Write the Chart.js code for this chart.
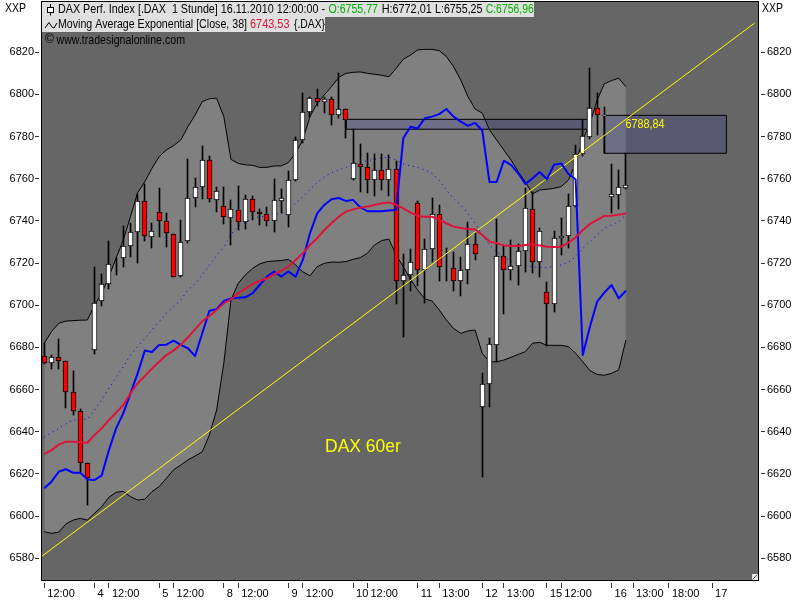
<!DOCTYPE html>
<html><head><meta charset="utf-8">
<style>html,body{margin:0;padding:0;background:#fff}canvas{display:block}</style>
<script src="https://cdn.jsdelivr.net/npm/chart.js@4/dist/chart.umd.js"></script>
</head><body><canvas id="c" width="800" height="600"></canvas>
<script>
const opens=[6675.9,6672.5,6675.3,6673.4,6658.7,6649.7,6625,6678.6,6702,6710,6719.9,6722.3,6728,6734.6,6749.3,6732.2,6744.1,6739.8,6733.7,6713.7,6730.3,6750.7,6756,6768.8,6749.8,6747,6741.3,6745,6739.4,6750.3,6744.1,6743.1,6739.8,6749.3,6742.7,6759.3,6778.3,6791.5,6798.2,6796.3,6797.7,6790.1,6793,6759.8,6766.9,6765.4,6759.3,6764,6759.3,6764.5,6711.3,6714.5,6748.3,6716.6,6726.5,6743.1,6717.9,6717.5,6711.3,6716.6,6728.9,6651.6,6662.5,6681,6723.4,6716.6,6718.5,6725.6,6745.5,6720.4,6706.1,6700.7,6731.7,6732.7,6746.9,6771.9,6779.6,6793.4,6790,6751.5,6752.4,6755.77];
const closes=[6672.5,6675.3,6673.4,6658.7,6649.7,6625,6618.2,6701.2,6710,6719.4,6720.1,6728,6734.6,6749.3,6732.7,6735,6739.8,6734.1,6713.3,6729.9,6750.7,6756,6768.8,6750.3,6754.4,6741.7,6745.5,6739.4,6750.3,6744.1,6743.1,6739.8,6749.8,6750.7,6759.3,6778.3,6791.5,6798.2,6796.4,6797.7,6790.1,6793,6787.7,6767.3,6765.4,6759.3,6764,6759.3,6764.5,6711.3,6714.5,6720.4,6716.6,6726.5,6743.1,6718,6717.5,6711.3,6716.6,6728.9,6724.2,6662.5,6681.5,6723.4,6716.6,6718.5,6725.6,6746,6720.4,6735,6700.7,6731.7,6732.7,6746.9,6771.9,6780.1,6793.4,6790.1,6790.3,6752.8,6755.9,6756.96];
const highs=[6681.9,6676.2,6683.8,6673.4,6668.8,6650.8,6625,6718.3,6714.8,6730.5,6722.3,6737.6,6739,6753,6757.5,6738.9,6755.5,6743.6,6733.7,6740.5,6769.2,6760.4,6775.6,6770.8,6756.3,6756,6750,6756.6,6752.3,6751.8,6745.5,6746.5,6759.8,6755,6763.7,6779.7,6800.6,6799,6802.4,6799,6798.7,6810,6793,6783.5,6776.5,6772,6771.6,6771.6,6771.3,6768.4,6724.3,6726.7,6749.3,6731.3,6750.9,6747.6,6727,6725.3,6722.9,6739.5,6734.4,6667.7,6684.3,6740.7,6728.6,6731,6729,6755.5,6753.9,6736.5,6710.9,6735.4,6741.2,6752.8,6776,6787.9,6812.4,6800.5,6794.2,6767,6764.2,6772.01];
const lows=[6672,6669.6,6669.6,6651.4,6647.9,6620.7,6605.3,6676.9,6699.7,6707.7,6714.4,6718.3,6723,6720,6730.7,6727,6732.6,6727.8,6713.3,6713.3,6729.4,6746.8,6750.3,6749.2,6744.4,6738.4,6728.6,6735.7,6736.2,6740.5,6738,6737.6,6734.9,6743.6,6737,6759,6776.8,6789.5,6794.5,6791.4,6785.5,6788.7,6779.5,6759.3,6753.7,6753.4,6752,6754.7,6752,6700.4,6685.1,6706.8,6709.1,6701.2,6720.7,6711.5,6711.7,6706.9,6704.5,6710.2,6721.6,6618.7,6651.6,6673.2,6696,6712,6709.6,6715.9,6715.4,6713.6,6680.8,6696.8,6723.8,6727.3,6746.5,6771,6779,6780.8,6772,6743.6,6745.7,6755.25];
const emaRed=[6629.4,6631.3,6633.9,6635.3,6635.3,6635,6634.8,6638.5,6641.6,6645.6,6649,6652.7,6658.2,6663,6666.4,6670,6673.2,6676.4,6678.5,6681.2,6684.8,6688.6,6692.5,6694.9,6697.8,6700.9,6702.8,6705.7,6707.9,6710.1,6711.5,6712.8,6714.7,6716.4,6718.3,6721.5,6724.6,6728.6,6731.8,6735.7,6738.9,6742,6744.4,6745.5,6746.3,6746.8,6747.6,6748.4,6748.8,6747.6,6746,6744,6742.4,6742,6742,6740.5,6738.9,6737.3,6736.7,6736.2,6736,6733.3,6730.2,6729.4,6728.4,6728.1,6728.1,6728.6,6728.9,6728.4,6727.8,6727.6,6727.8,6729.7,6732.2,6735.7,6738.6,6740.5,6742.4,6742.5,6743,6743.53];
const blueLine=[6613.2,6616.3,6621,6622.2,6620.6,6620.6,6617.4,6617.1,6619.3,6631.3,6641.6,6648.7,6658.2,6667.7,6678.5,6677.8,6681.2,6681.3,6683.2,6681.2,6679.6,6675.9,6686.7,6697.4,6698.1,6702,6703.3,6703.6,6703.8,6705.7,6709.6,6713.6,6716,6713.6,6716,6713.6,6721.5,6734.1,6743.6,6747.6,6750.3,6750.9,6749.5,6750,6746.5,6744.6,6744.6,6744.6,6745,6745.2,6779.2,6784.7,6783.9,6788.7,6789.5,6790.7,6793.1,6789.5,6787.1,6785.1,6786.5,6782.9,6758.5,6758.5,6768.6,6766.6,6762.6,6757.5,6760.2,6763.2,6759.8,6766.7,6767.3,6762.3,6759.8,6676.4,6689.9,6701.7,6706,6709.6,6703.3,6706.9];
const bandUpper=[6682,6687.5,6691.4,6692.5,6692.7,6692.9,6693,6700,6705.7,6713.6,6722.3,6731,6742,6753.4,6758.6,6765,6770.5,6773.7,6775.7,6778.4,6784.7,6790.2,6796.6,6798,6798.2,6789.5,6769.2,6767.3,6766.6,6766.4,6765.4,6765.4,6766.1,6766.1,6767.7,6772.1,6778.4,6789.5,6795.8,6799.8,6803.7,6808.1,6810,6810.5,6810.7,6810,6809.6,6809.1,6808.4,6812.4,6816.7,6818.7,6821.1,6821.4,6821.4,6820.8,6818,6813.2,6806.9,6799,6793.1,6791.1,6783.2,6778.4,6773.7,6768.9,6763.4,6758.6,6752.8,6754.7,6755,6755.5,6756.3,6759.4,6767.3,6778.4,6786.3,6797.4,6805,6806.6,6807.7,6803.7];
const bandLower=[6592.6,6591.8,6592.4,6596.2,6598.1,6598.9,6598.1,6601.3,6604.5,6608.9,6611.3,6611.7,6609.2,6607.6,6608,6611.6,6614,6617.9,6621.9,6624.2,6626.6,6628.5,6630.5,6638.5,6650.3,6672.5,6702.5,6710.4,6714.4,6717.5,6719.6,6720.7,6721,6721.2,6721.8,6719.1,6715.9,6714,6718.3,6719.9,6720.5,6720.4,6720.7,6721.8,6722.6,6724.7,6728.6,6730.7,6731.4,6723.9,6718.3,6712.3,6707.3,6703,6702,6697.8,6693,6689,6686.7,6687.8,6688.3,6677.2,6673.2,6673.2,6674,6675.3,6676.7,6678,6682,6682.4,6681,6681,6681,6680.4,6677.2,6673.2,6669,6667.2,6666.8,6667.7,6669.3,6683.5];
const dottedMid=[6637.4,6639.6,6641.6,6643.7,6645.6,6645.9,6645.9,6650.3,6655,6660.6,6665.8,6670.9,6676.4,6680.4,6684.3,6688.3,6692.2,6696.2,6699.3,6702.5,6707.3,6710.1,6714.4,6719.1,6723.5,6727.5,6733.7,6737.3,6739.2,6741.3,6742,6742.4,6743,6743.6,6745.5,6748.4,6751.5,6755,6758.2,6761,6762.9,6764.2,6765.4,6766.6,6767.7,6768.6,6769.2,6770,6770.3,6768.9,6767,6766.1,6765.3,6764.2,6762.6,6759.4,6754.7,6750.7,6747.6,6743.6,6738.9,6733.3,6728.6,6725.4,6723.1,6720.7,6719.4,6718.8,6718.3,6717.9,6717.9,6718.6,6719.1,6720.4,6723.1,6727,6730.2,6733.3,6736.5,6738.1,6739.7,6742.8];
const trendX=[-0.32,98.9];
const trendY=[6581,6833.8];
const zoneAX=[42,76.2];
const zoneAY=[6783.5,6788.2];
const zoneBX=[78,95];
const zoneBY=[6772.1,6790.1];
const zoneBLabel='6788,84';
const xTickPos=[0,7,9,16,18,25,27,34,36,43,45,52,55,61,64,70,72,79,82,87,93];
const xTickLabels=['12:00','4','12:00','5','12:00','8','12:00','9','12:00','10','12:00','11','13:00','12','13:00','15','12:00','16','13:00','18:00','17'];
const yTickTop=6820;

const FONT='"Liberation Sans", Arial, sans-serif';
const idx=a=>a.map((y,x)=>({x,y}));
const box=(xs,ys)=>[{x:xs[0],y:ys[0]},{x:xs[1],y:ys[0]},{x:xs[1],y:ys[1]},{x:xs[0],y:ys[1]},{x:xs[0],y:ys[0]}];
const lineBase={type:'line',pointRadius:0,pointHoverRadius:0,tension:0,fill:false,borderJoinStyle:'round'};

const snapBars={id:'snapBars',afterDatasetsUpdate(chart){
  chart.getSortedVisibleDatasetMetas().forEach(m=>{
    if(m.type!=='bar')return;
    m.data.forEach(el=>{el.x=Math.floor(el.x)+0.5;el.y=Math.round(el.y);el.base=Math.round(el.base);});
  });
}};
const frame={id:'frame',
 beforeDatasetsDraw(chart){
  const {ctx,chartArea:a}=chart;
  ctx.save();ctx.fillStyle='#666666';ctx.fillRect(a.left,a.top,a.right-a.left,a.bottom-a.top);ctx.restore();
 },
 afterDraw(chart){
  const {ctx}=chart;
  ctx.save();
  ctx.strokeStyle='#000';ctx.lineWidth=1;
  ctx.strokeRect(41.5,1.5,717,579);
  ctx.fillStyle='#e0e0e0';ctx.fillRect(42,2,492,15);ctx.fillRect(42,17,283,15);
  ctx.font='12px '+FONT;ctx.textBaseline='middle';
  const seg=(t,x,y,c,w)=>{ctx.fillStyle=c;ctx.fillText(t,x,y,w);};
  seg('DAX Perf. Index [.DAX  1 Stunde] 16.11.2010 12:00:00 -',58,10,'#000',267);
  seg('O:6755,77',328.5,10,'#00b000',49.5);
  seg('H:6772,01',381.7,10,'#000',50);
  seg('L:6755,25',435,10,'#000',47.5);
  seg('C:6756,96',485.7,10,'#00b000',48);
  seg('Moving Average Exponential [Close, 38]',58,25,'#000',189);
  seg('6743,53',250,25,'#dc143c',39.5);
  seg('{.DAX}',294,25,'#000',31);
  seg('©',45,39.5,'#000',9);
  seg('www.tradesignalonline.com',56.5,41,'#000',128.5);
  seg('XXP',5,9,'#000',21);seg('XXP',762,9,'#000',21);
  ctx.strokeStyle='#000';ctx.beginPath();ctx.moveTo(50.5,4);ctx.lineTo(50.5,15.5);ctx.stroke();
  ctx.fillStyle='#fff';ctx.fillRect(47.5,7.5,6,5);ctx.strokeRect(47.5,7.5,6,5);
  ctx.beginPath();ctx.moveTo(45,28);ctx.lineTo(49,22.5);ctx.lineTo(52,27);ctx.lineTo(54,28);ctx.lineTo(57,23);ctx.stroke();
  seg(zoneBLabel,625.5,125,'#ffff00',39);
  ctx.font='17.5px '+FONT;seg('DAX 60er',325,447,'#ffff00');
  ctx.fillStyle='#e8e8e8';ctx.fillRect(752,574,6,6);
  ctx.strokeStyle='#555';ctx.beginPath();ctx.moveTo(752.5,579.5);ctx.lineTo(757.5,574.5);ctx.stroke();
  ctx.restore();
 }};

const xMin=-0.32,pxPerBar=7.18;
const yMin=6569.67,yMax=6844.34;
const yAxis=(pos,dash,pad)=>({type:'linear',position:pos,min:yMin,max:yMax,
  afterFit(s){s.width=42;s.paddingTop=0;s.paddingBottom=0;},
  afterBuildTicks(s){s.ticks=s.ticks.filter(t=>t.value<=yTickTop);},
  border:{display:false},
  grid:{drawOnChartArea:false,drawTicks:true,tickLength:7,tickColor:'#333',tickBorderDash:dash,tickWidth:1},
  ticks:{stepSize:20,includeBounds:false,color:'#000',padding:pad,font:{family:FONT,size:11},callback:v=>String(v)}});

new Chart(document.getElementById('c'),{
 data:{datasets:[
  {...lineBase,label:'Band upper',data:idx(bandUpper),borderColor:'#000',borderWidth:1,backgroundColor:'#808080',fill:'+1',order:100},
  {...lineBase,label:'Band lower',data:idx(bandLower),borderColor:'#000',borderWidth:1,order:99},
  {...lineBase,label:'Zone A',data:box(zoneAX,zoneAY),borderColor:'#000',borderWidth:1,backgroundColor:'rgba(42,42,162,0.2)',fill:'shape',order:90},
  {...lineBase,label:'Zone B',data:box(zoneBX,zoneBY),borderColor:'#000',borderWidth:1,backgroundColor:'rgba(42,42,162,0.2)',fill:'shape',order:89},
  {...lineBase,label:'Mid',data:idx(dottedMid),borderColor:'#0000ff',borderWidth:1,borderDash:[1,4],order:80},
  {type:'bar',label:'Range',data:highs.map((h,i)=>({x:i,y:[lows[i],h]})),backgroundColor:'#000',borderWidth:0,barThickness:1,grouped:false,order:70},
  {type:'bar',label:'DAX',data:opens.map((o,i)=>({x:i,y:[o,closes[i]]})),backgroundColor:opens.map((o,i)=>closes[i]>=o?'#fff':'#ff0000'),borderColor:'#000',borderWidth:1,barThickness:5,grouped:false,borderSkipped:false,order:60},
  {...lineBase,label:'Trend',data:trendX.map((x,i)=>({x,y:trendY[i]})),borderColor:'#ffff00',borderWidth:1,order:30},
  {...lineBase,label:'Blue',data:idx(blueLine),borderColor:'#0000ff',borderWidth:2,order:20},
  {...lineBase,label:'EMA 38',data:idx(emaRed),borderColor:'#dc143c',borderWidth:2,order:10}
 ]},
 options:{
  responsive:false,animation:false,devicePixelRatio:1,
  layout:{padding:{top:1,left:0,right:0,bottom:0}},
  plugins:{legend:{display:false},title:{display:false},tooltip:{enabled:false}},
  events:[],
  scales:{
   x:{type:'linear',position:'bottom',min:xMin,max:xMin+716/pxPerBar,offset:false,
     afterFit(s){s.height=20;s.paddingLeft=0;s.paddingRight=0;},
     afterBuildTicks(s){s.ticks=xTickPos.map(value=>({value}));},
     border:{display:false},
     grid:{offset:false,drawOnChartArea:false,drawTicks:true,tickLength:9,tickColor:'#333',tickBorderDash:[0,3,5,99],tickWidth:1},
     ticks:{align:'start',labelOffset:3,padding:-2,maxRotation:0,minRotation:0,autoSkip:false,color:'#000',font:{family:FONT,size:11},
       callback:(v,i)=>xTickLabels[i]}},
   y:yAxis('left',[4,99],1),
   y2:yAxis('right',[0,3,4,99],2)
  }
 },
 plugins:[snapBars,frame]
});
</script></body></html>
